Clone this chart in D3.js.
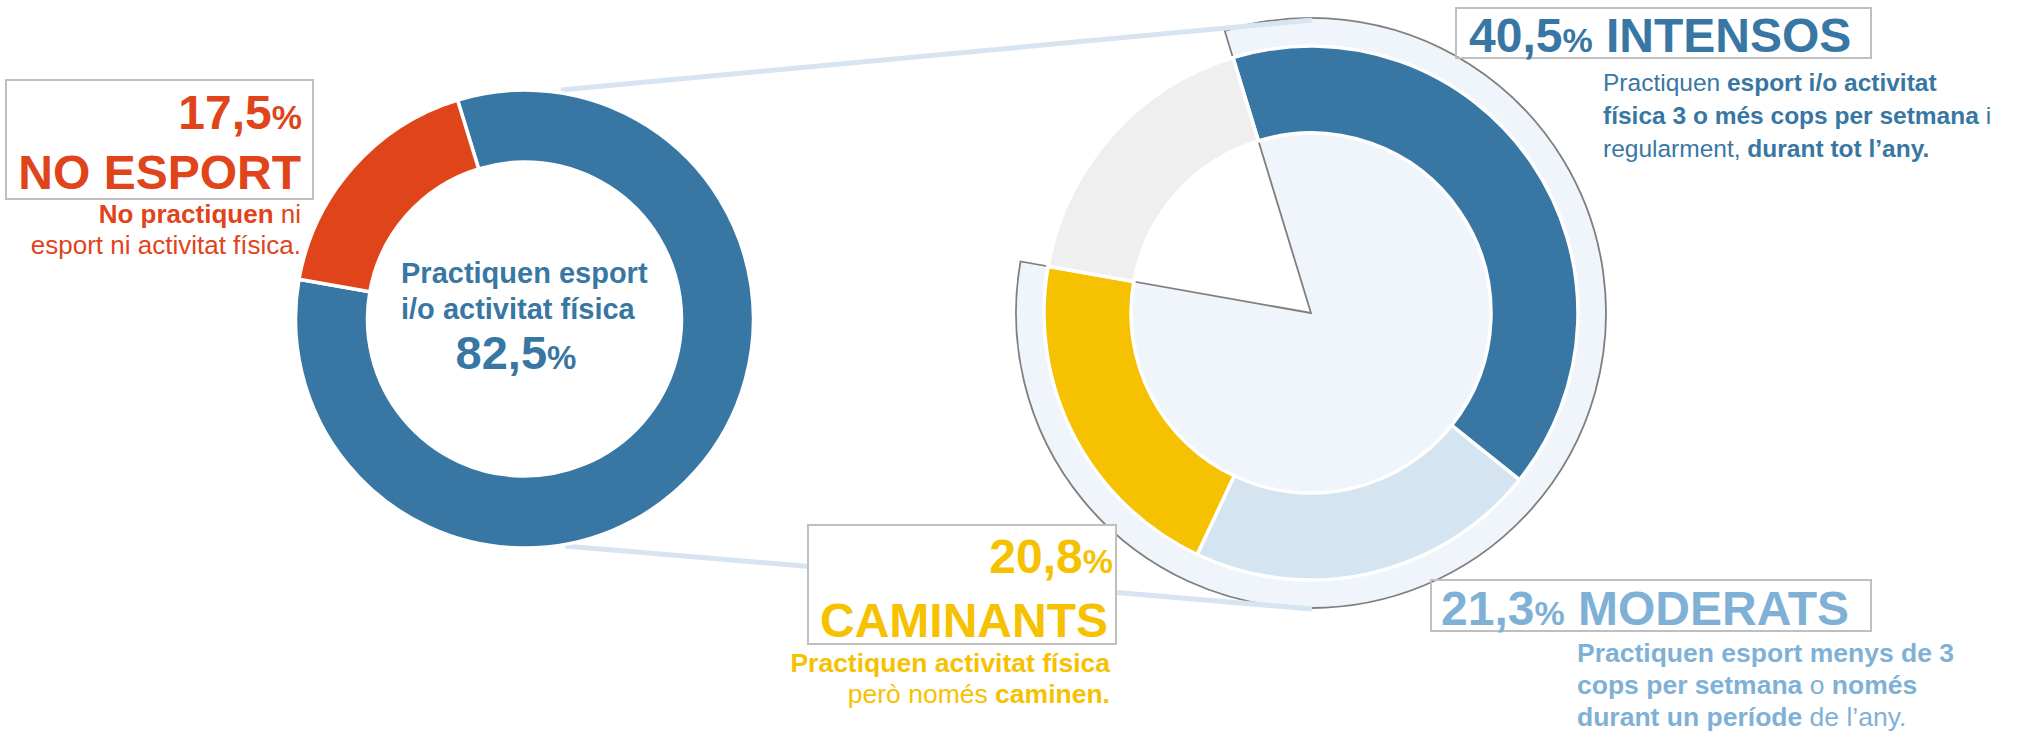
<!DOCTYPE html>
<html>
  <head>
    <meta charset="utf-8">
    <style>
      body { margin: 0; background: #fff; }
      svg { display: block; font-family: "Liberation Sans", Arial, sans-serif; }
    </style>
    <script src="https://d3js.org/d3.v7.min.js"></script>
  </head>
  <body>
    <svg></svg>
    <script>
    // data
    var generalLabels = ["Practiquen esport i/o activitat física", "No esport"];
    var generalValues = [82.5, 17.5];
    var typeLabels = ["Intensos", "Moderats", "Caminants", "No esport"];
    var typeValues = [40.5, 21.3, 20.8, 17.5];

    var generalColors = ["#3877a3", "#e0441a"];
    var typeColors = ["#3877a3", "#d4e4f1", "#f6c100", "#efefef"];

    var width = 2030;
    var height = 733;
    var startAngle = -17 * Math.PI / 180;

    var svg = d3.select("svg")
        .attr("width", width)
        .attr("height", height);

    var fmt = function(v) { return d3.format(".1f")(v).replace(".", ","); };

    var pie = d3.pie()
        .sort(null)
        .startAngle(startAngle)
        .endAngle(startAngle + 2 * Math.PI);

    // right chart: breakdown of the people who do practise
    var right = svg.append("g").attr("transform", "translate(1311,313)");
    var typeArcs = pie(typeValues);

    right.append("path")
        .attr("d", d3.arc()
            .innerRadius(0)
            .outerRadius(295)
            .startAngle(typeArcs[0].startAngle)
            .endAngle(typeArcs[2].endAngle)())
        .attr("fill", "#eff5fa")
        .attr("stroke", "#7f7f7f")
        .attr("stroke-width", 1.8)
        .attr("stroke-linejoin", "miter");

    var ring = d3.arc().innerRadius(180).outerRadius(267);
    right.selectAll("path.seg")
        .data(typeArcs)
        .enter().append("path")
          .attr("class", "seg")
          .attr("d", ring)
          .attr("fill", function(d, i) { return typeColors[i]; })
          .attr("stroke", "#fff")
          .attr("stroke-width", 3.5);

    // connectors between both charts
    var links = [[[561, 90], [1312, 20]], [[565, 546], [1312, 609]]];
    svg.selectAll("line.link")
        .data(links)
        .enter().append("line")
          .attr("class", "link")
          .attr("x1", function(d) { return d[0][0]; })
          .attr("y1", function(d) { return d[0][1]; })
          .attr("x2", function(d) { return d[1][0]; })
          .attr("y2", function(d) { return d[1][1]; })
          .attr("stroke", "#d6e5f1")
          .attr("stroke-width", 5);

    // left donut
    var left = svg.append("g").attr("transform", "translate(524.5,319)");
    left.selectAll("path")
        .data(pie(generalValues))
        .enter().append("path")
          .attr("d", d3.arc().innerRadius(157).outerRadius(229))
          .attr("fill", function(d, i) { return generalColors[i]; })
          .attr("stroke", "#fff")
          .attr("stroke-width", 3.5);

    // label boxes
    function box(x, y, w, h, fill) {
        svg.append("rect")
            .attr("x", x).attr("y", y)
            .attr("width", w).attr("height", h)
            .attr("fill", fill)
            .attr("stroke", "#bfbfbf")
            .attr("stroke-width", 2);
    }
    box(6, 80, 307, 119, "none");
    box(1456, 8, 415, 50, "none");
    box(1431, 580, 440, 51, "none");
    box(808, 525, 308, 119, "#fff");

    // big figure + percent sign
    function figure(x, y, anchor, value, color, title, size) {
        size = size || 48;
        var t = svg.append("text")
            .attr("x", x).attr("y", y)
            .attr("text-anchor", anchor)
            .attr("fill", color)
            .attr("font-weight", "bold")
            .attr("font-size", size);
        t.append("tspan").text(fmt(value));
        t.append("tspan").attr("font-size", Math.round(size * 0.7)).text("%");
        if (title) t.append("tspan").text(" " + title);
        return t;
    }

    // lines of mixed bold / regular text
    function rich(x, y0, step, anchor, color, size, lines) {
        lines.forEach(function(parts, i) {
            var t = svg.append("text")
                .attr("x", x).attr("y", y0 + i * step)
                .attr("text-anchor", anchor)
                .attr("fill", color)
                .attr("font-size", size);
            parts.forEach(function(p) {
                t.append("tspan")
                    .attr("font-weight", p[1] ? "bold" : "normal")
                    .text(p[0]);
            });
        });
    }

    // NO ESPORT
    figure(302, 129, "end", generalValues[1], generalColors[1]);
    svg.append("text")
        .attr("x", 301).attr("y", 189)
        .attr("text-anchor", "end")
        .attr("fill", generalColors[1])
        .attr("font-weight", "bold")
        .attr("font-size", 48)
        .text(generalLabels[1].toUpperCase());
    rich(301, 223, 31, "end", generalColors[1], 26, [
        [["No practiquen", true], [" ni", false]],
        [["esport ni activitat física.", false]]
    ]);

    // donut centre
    svg.append("text")
        .attr("x", 401).attr("y", 283)
        .attr("fill", generalColors[0])
        .attr("font-weight", "bold")
        .attr("font-size", 29)
        .text("Practiquen esport");
    svg.append("text")
        .attr("x", 401).attr("y", 319)
        .attr("fill", generalColors[0])
        .attr("font-weight", "bold")
        .attr("font-size", 29)
        .text("i/o activitat física");
    figure(516, 369, "middle", generalValues[0], generalColors[0], null, 47);

    // INTENSOS
    figure(1469, 52, "start", typeValues[0], "#3877a3", typeLabels[0].toUpperCase());
    rich(1603, 91, 33, "start", "#3877a3", 24.5, [
        [["Practiquen ", false], ["esport i/o activitat", true]],
        [["física 3 o més cops per setmana", true], [" i", false]],
        [["regularment, ", false], ["durant tot l’any.", true]]
    ]);

    // MODERATS
    figure(1441, 625, "start", typeValues[1], "#7fb1d6", typeLabels[1].toUpperCase());
    rich(1577, 662, 32, "start", "#7fb1d6", 26.5, [
        [["Practiquen esport menys de 3", true]],
        [["cops per setmana", true], [" o ", false], ["només", true]],
        [["durant un període", true], [" de l’any.", false]]
    ]);

    // CAMINANTS
    figure(1113, 573, "end", typeValues[2], "#f6c100");
    svg.append("text")
        .attr("x", 1108).attr("y", 637)
        .attr("text-anchor", "end")
        .attr("fill", "#f6c100")
        .attr("font-weight", "bold")
        .attr("font-size", 48)
        .text(typeLabels[2].toUpperCase());
    rich(1110, 672, 31, "end", "#f6c100", 26.5, [
        [["Practiquen activitat física", true]],
        [["però només ", false], ["caminen.", true]]
    ]);
    </script>
  </body>
</html>
